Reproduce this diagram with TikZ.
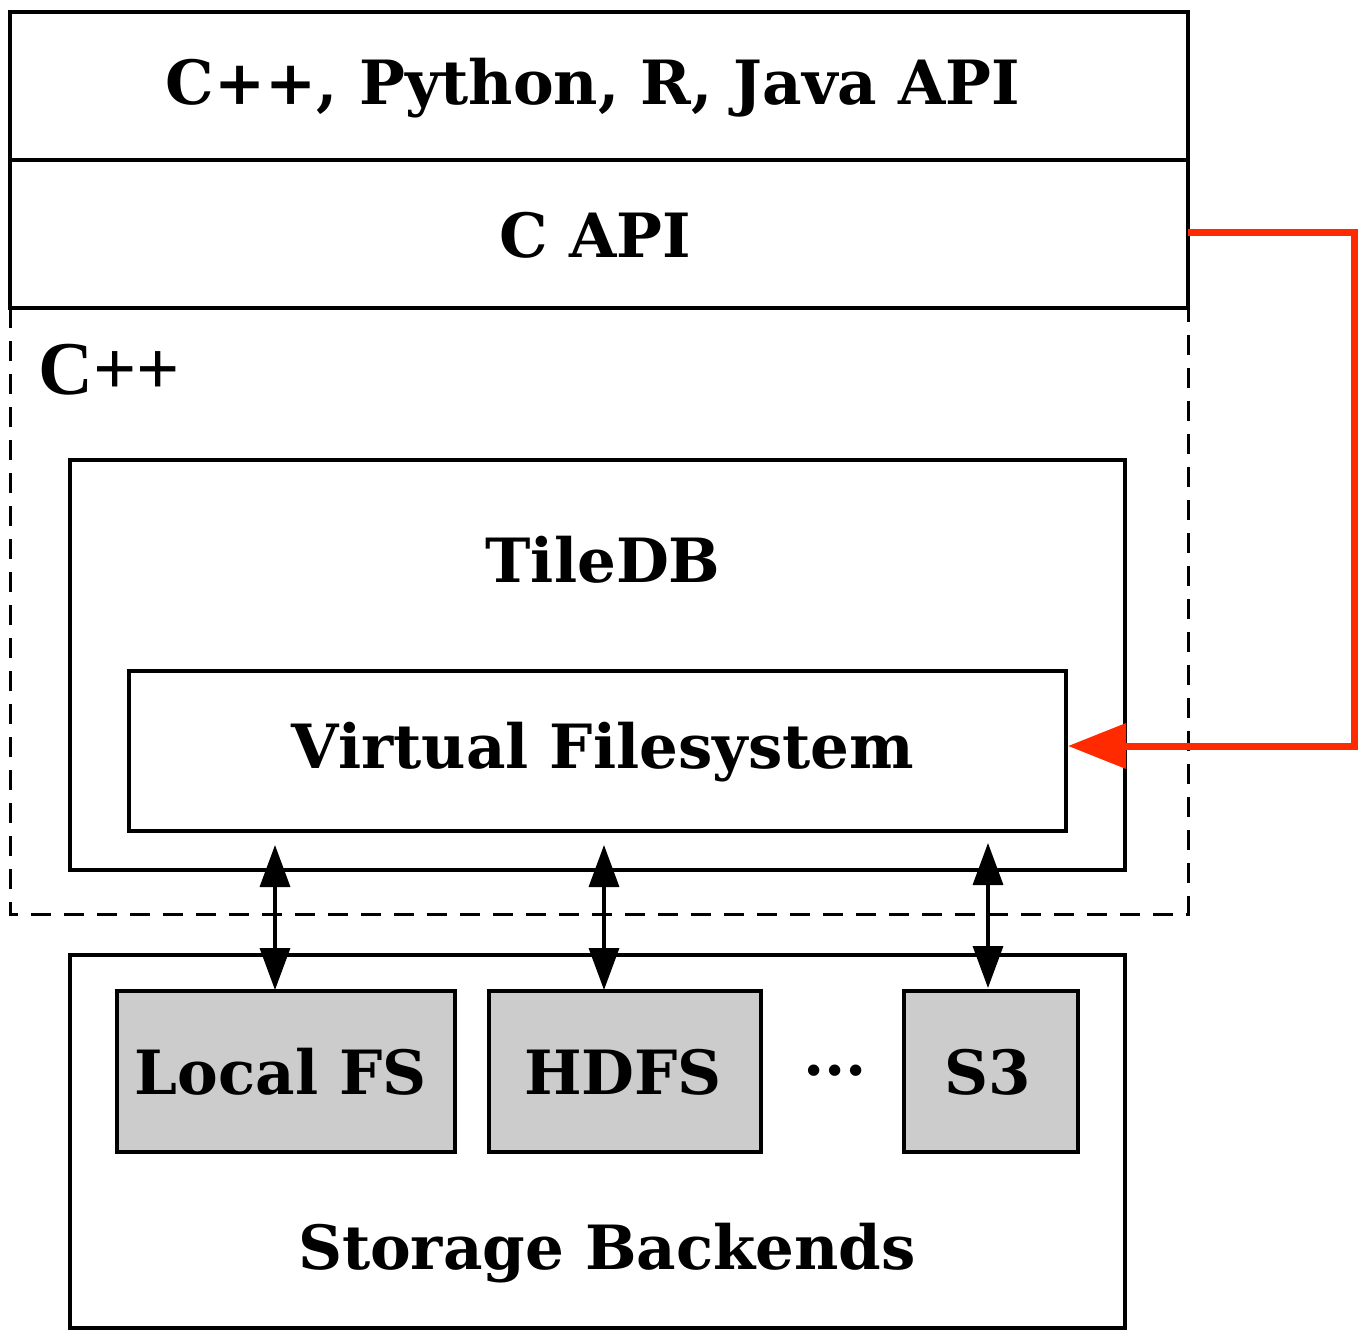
\documentclass[tikz,border=0pt]{standalone}
\usepackage{fontspec}
\setmainfont{DejaVu Serif}
\newfontfamily\timesbf{Liberation Serif}
\usetikzlibrary{arrows.meta}
\begin{document}
\begin{tikzpicture}[x=1pt,y=-1pt,
  box/.style={draw=black,line width=3.5pt,fill=white},
  graybox/.style={draw=black,line width=3.5pt,fill=gray!40},
  dashbox/.style={draw=black,line width=3pt,dash pattern=on 20pt off 13pt},
  lbl/.style={inner sep=0pt,font=\fontsize{61}{73}\selectfont\bfseries},
  biarrow/.style={line width=3.5pt,{Triangle[length=42pt,width=30pt]}-{Triangle[length=42pt,width=30pt]}},
  redarrow/.style={draw={rgb,255:red,255;green,42;blue,0},line width=7pt,-{Triangle[length=58pt,width=44pt]}}
]
\useasboundingbox (0,0) rectangle (1366,1337);
% top API boxes
\draw[box] (10,12) rectangle (1188,160);
\node[lbl] (api) at (593,88) {C++, Python, R, Java API};
\draw[box] (10,160) rectangle (1188,308);
\node[lbl] (capi) at (595,235) {C API};
\coordinate (capiE) at (1188,233);
% dashed C++ region
\draw[dashbox] (10,308) -- (10,914) -- (1188,914) -- (1188,308);
\node[inner sep=0pt,anchor=west,font=\fontsize{76}{88}\selectfont\timesbf\bfseries] (cpp) at (38,370) {C++};
% TileDB
\draw[box] (70,460) rectangle (1125,870);
\node[lbl] (tiledb) at (603,560) {TileDB};
\draw[box] (129,671) rectangle (1066,831);
\node[lbl] (vfs) at (603,752) {Virtual Filesystem};
\coordinate (vfsE) at (1068,746);
% Storage
\draw[box] (70,955) rectangle (1125,1328);
\node[lbl] (sb) at (607,1253) {Storage Backends};
\draw[graybox] (117,991) rectangle (455,1152);
\node[lbl] (lfs) at (281,1072) {Local FS};
\draw[graybox] (489,991) rectangle (761,1152);
\node[lbl] (hdfs) at (623,1072) {HDFS};
\node[lbl] (dots) at (835,1071) {...};
\draw[graybox] (904,991) rectangle (1078,1152);
\node[lbl] (s3) at (988,1072) {S3};
% arrows
\coordinate (a1t) at (275,845); \coordinate (a1b) at (275,990);
\coordinate (a2t) at (604,845); \coordinate (a2b) at (604,990);
\coordinate (a3t) at (988,843); \coordinate (a3b) at (988,988);
\draw[biarrow] (a1t) -- (a1b);
\draw[biarrow] (a2t) -- (a2b);
\draw[biarrow] (a3t) -- (a3b);
% red connector
\coordinate (r1) at (1354,233);
\coordinate (r2) at (1354,746);
\draw[redarrow] (capiE) -- (r1) -- (r2) -- (vfsE);
\end{tikzpicture}
\end{document}
